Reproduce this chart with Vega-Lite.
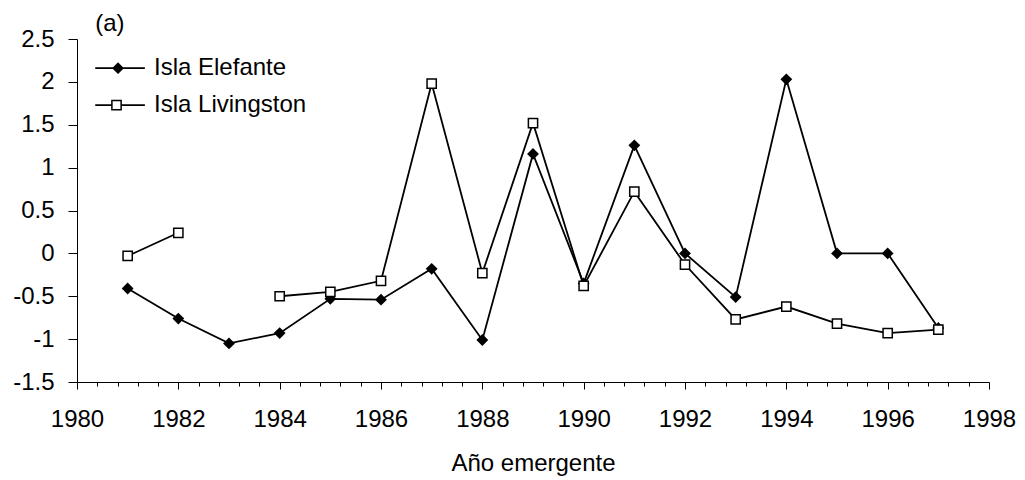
{
  "$schema": "https://vega.github.io/schema/vega-lite/v6.json",
  "width": 912,
  "height": 343,
  "autosize": {"type": "none"},
  "padding": {"left": 77, "top": 39, "right": 36, "bottom": 98},
  "background": "white",
  "config": {
    "view": {"stroke": null},
    "font": "Liberation Sans",
    "axis": {
      "grid": false,
      "domainColor": "black",
      "domainWidth": 1,
      "tickColor": "black",
      "tickWidth": 1,
      "labelColor": "black",
      "labelFont": "Liberation Sans",
      "labelFontSize": 24,
      "titleFont": "Liberation Sans",
      "titleFontSize": 24,
      "titleFontWeight": "normal",
      "titleColor": "black",
      "labelOverlap": false,
      "labelFlush": false
    }
  },
  "data": {
    "values": [
      {"year": 1981, "series": "Isla Elefante", "value": -0.41},
      {"year": 1982, "series": "Isla Elefante", "value": -0.76},
      {"year": 1983, "series": "Isla Elefante", "value": -1.05},
      {"year": 1984, "series": "Isla Elefante", "value": -0.93},
      {"year": 1985, "series": "Isla Elefante", "value": -0.53},
      {"year": 1986, "series": "Isla Elefante", "value": -0.54},
      {"year": 1987, "series": "Isla Elefante", "value": -0.18},
      {"year": 1988, "series": "Isla Elefante", "value": -1.01},
      {"year": 1989, "series": "Isla Elefante", "value": 1.16},
      {"year": 1990, "series": "Isla Elefante", "value": -0.35},
      {"year": 1991, "series": "Isla Elefante", "value": 1.26},
      {"year": 1992, "series": "Isla Elefante", "value": 0.0},
      {"year": 1993, "series": "Isla Elefante", "value": -0.51},
      {"year": 1994, "series": "Isla Elefante", "value": 2.03},
      {"year": 1995, "series": "Isla Elefante", "value": 0.0},
      {"year": 1996, "series": "Isla Elefante", "value": 0.0},
      {"year": 1997, "series": "Isla Elefante", "value": -0.87},
      {"year": 1981, "series": "Isla Livingston", "value": -0.03},
      {"year": 1982, "series": "Isla Livingston", "value": 0.24},
      {"year": 1983, "series": "Isla Livingston", "value": null},
      {"year": 1984, "series": "Isla Livingston", "value": -0.5},
      {"year": 1985, "series": "Isla Livingston", "value": -0.45},
      {"year": 1986, "series": "Isla Livingston", "value": -0.32},
      {"year": 1987, "series": "Isla Livingston", "value": 1.98},
      {"year": 1988, "series": "Isla Livingston", "value": -0.23},
      {"year": 1989, "series": "Isla Livingston", "value": 1.52},
      {"year": 1990, "series": "Isla Livingston", "value": -0.38},
      {"year": 1991, "series": "Isla Livingston", "value": 0.72},
      {"year": 1992, "series": "Isla Livingston", "value": -0.13},
      {"year": 1993, "series": "Isla Livingston", "value": -0.77},
      {"year": 1994, "series": "Isla Livingston", "value": -0.62},
      {"year": 1995, "series": "Isla Livingston", "value": -0.82},
      {"year": 1996, "series": "Isla Livingston", "value": -0.93},
      {"year": 1997, "series": "Isla Livingston", "value": -0.89}
    ]
  },
  "layer": [
    {
      "mark": {"type": "line", "color": "black", "strokeWidth": 1.8, "invalid": "break-paths-show-domains"},
      "encoding": {
        "x": {
          "field": "year",
          "type": "quantitative",
          "scale": {"domain": [1980, 1998], "nice": false, "zero": false},
          "axis": {
            "title": "Año emergente",
            "values": [1980, 1980.4, 1980.8, 1981.2, 1981.6, 1982, 1982.4, 1982.8, 1983.2, 1983.6, 1984, 1984.4, 1984.8, 1985.2, 1985.6, 1986, 1986.4, 1986.8, 1987.2, 1987.6, 1988, 1988.4, 1988.8, 1989.2, 1989.6, 1990, 1990.4, 1990.8, 1991.2, 1991.6, 1992, 1992.4, 1992.8, 1993.2, 1993.6, 1994, 1994.4, 1994.8, 1995.2, 1995.6, 1996, 1996.4, 1996.8, 1997.2, 1997.6, 1998],
            "tickCount": 100,
            "tickSize": {"condition": {"test": "datum.value % 2 === 0", "value": 7}, "value": 4},
            "labelExpr": "datum.value % 2 === 0 ? '' + datum.value : ''",
            "labelOverlap": false,
            "labelFlush": false,
            "labelPadding": 18,
            "titlePadding": 20
          }
        },
        "y": {
          "field": "value",
          "type": "quantitative",
          "scale": {"domain": [-1.5, 2.5], "nice": false, "zero": false},
          "axis": {
            "title": null,
            "values": [-1.5, -1, -0.5, 0, 0.5, 1, 1.5, 2, 2.5],
            "tickCount": 20,
            "labelExpr": "'' + datum.value",
            "tickSize": 9,
            "labelPadding": 14,
            "labelOverlap": false,
            "labelFlush": false
          }
        },
        "detail": {"field": "series"}
      }
    },
    {
      "transform": [{"filter": "datum.series === 'Isla Elefante'"}],
      "mark": {"type": "point", "shape": "diamond", "filled": true, "color": "black", "size": 140, "opacity": 1},
      "encoding": {
        "x": {"field": "year", "type": "quantitative"},
        "y": {"field": "value", "type": "quantitative"}
      }
    },
    {
      "transform": [{"filter": "datum.series === 'Isla Livingston' && isValid(datum.value)"}],
      "mark": {"type": "point", "shape": "square", "filled": false, "fill": "white", "fillOpacity": 1, "stroke": "black", "strokeWidth": 1.5, "size": 85, "opacity": 1},
      "encoding": {
        "x": {"field": "year", "type": "quantitative"},
        "y": {"field": "value", "type": "quantitative"}
      }
    },
    {
      "data": {"values": [{"label": "Isla Elefante"}]},
      "mark": {"type": "rule", "color": "black", "strokeWidth": 1.8},
      "encoding": {
        "x": {"datum": 1980.36, "type": "quantitative"},
        "x2": {"datum": 1981.34},
        "y": {"datum": 2.16, "type": "quantitative"}
      }
    },
    {
      "data": {"values": [{"label": "Isla Elefante"}]},
      "mark": {"type": "point", "shape": "diamond", "filled": true, "color": "black", "size": 140, "opacity": 1},
      "encoding": {
        "x": {"datum": 1980.81, "type": "quantitative"},
        "y": {"datum": 2.16, "type": "quantitative"}
      }
    },
    {
      "data": {"values": [{"label": "Isla Elefante"}]},
      "mark": {"type": "text", "align": "left", "baseline": "middle", "fontSize": 24, "font": "Liberation Sans", "color": "black"},
      "encoding": {
        "x": {"datum": 1981.52, "type": "quantitative"},
        "y": {"datum": 2.16, "type": "quantitative"},
        "text": {"field": "label"}
      }
    },
    {
      "data": {"values": [{"label": "Isla Livingston"}]},
      "mark": {"type": "rule", "color": "black", "strokeWidth": 1.8},
      "encoding": {
        "x": {"datum": 1980.36, "type": "quantitative"},
        "x2": {"datum": 1981.34},
        "y": {"datum": 1.73, "type": "quantitative"}
      }
    },
    {
      "data": {"values": [{"label": "Isla Livingston"}]},
      "mark": {"type": "point", "shape": "square", "filled": false, "fill": "white", "fillOpacity": 1, "stroke": "black", "strokeWidth": 1.5, "size": 85, "opacity": 1},
      "encoding": {
        "x": {"datum": 1980.78, "type": "quantitative"},
        "y": {"datum": 1.73, "type": "quantitative"}
      }
    },
    {
      "data": {"values": [{"label": "Isla Livingston"}]},
      "mark": {"type": "text", "align": "left", "baseline": "middle", "fontSize": 24, "font": "Liberation Sans", "color": "black"},
      "encoding": {
        "x": {"datum": 1981.52, "type": "quantitative"},
        "y": {"datum": 1.73, "type": "quantitative"},
        "text": {"field": "label"}
      }
    },
    {
      "data": {"values": [{"label": "(a)"}]},
      "mark": {"type": "text", "align": "center", "baseline": "middle", "fontSize": 24, "font": "Liberation Sans", "color": "black"},
      "encoding": {
        "x": {"datum": 1980.65, "type": "quantitative"},
        "y": {"datum": 2.67, "type": "quantitative"},
        "text": {"field": "label"}
      }
    }
  ]
}
